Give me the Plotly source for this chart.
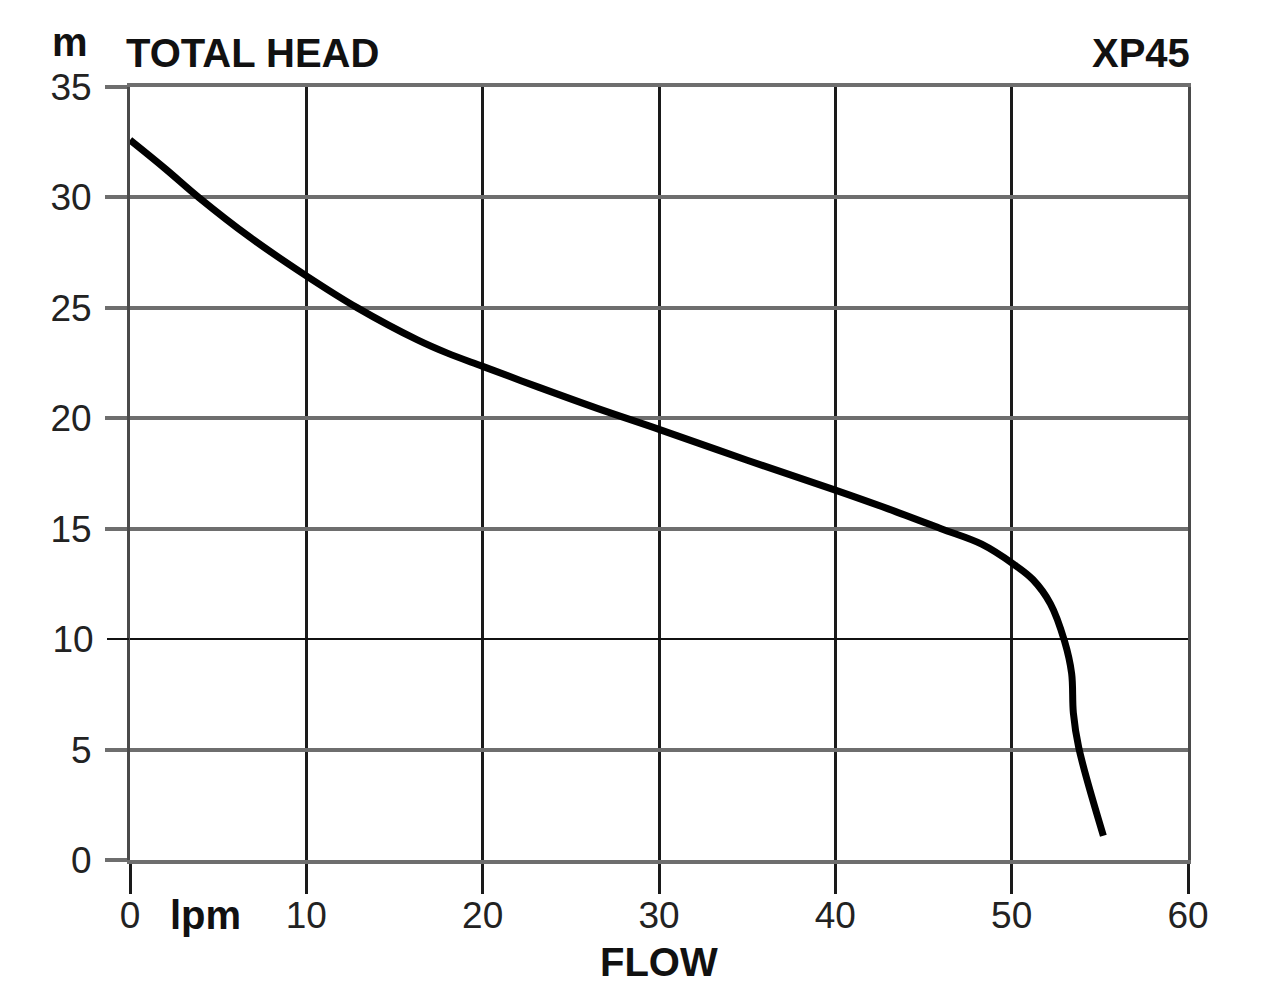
import plotly.graph_objects as go

# pump curve XP45
flow_lpm = [0, 2, 3.9, 6.8, 10, 12.9, 16.3, 18, 20, 23.2, 26.5, 30, 35, 40, 43, 46, 48.3,
            50.1, 51.2, 52.2, 53.0, 53.4, 53.5, 53.8, 55.2]
head_m = [32.6, 31.3, 30.0, 28.2, 26.45, 25.0, 23.55, 22.95, 22.35, 21.4, 20.45, 19.5, 18.1, 16.75, 15.9, 15.0, 14.3,
          13.4, 12.7, 11.6, 9.9, 8.45, 6.65, 5.1, 1.1]

x_ticks = [0, 10, 20, 30, 40, 50, 60]
y_ticks_grey = [0, 5, 15, 20, 25, 30, 35]
y_ticks_black = [10]

FONT = "Liberation Sans, Arial, sans-serif"
GREY = "#6e6e6e"
INK = "#111111"

fig = go.Figure()
fig.add_trace(
    go.Scatter(
        x=flow_lpm,
        y=head_m,
        mode="lines",
        line=dict(color="black", width=7, shape="spline", smoothing=1.0),
        showlegend=False,
        hoverinfo="skip",
    )
)
# empty trace so the second y axis (black 10 m line) gets drawn
fig.add_trace(go.Scatter(x=[None], y=[None], yaxis="y2", showlegend=False, hoverinfo="skip"))

tick_font = dict(size=37, color="#222")

fig.update_layout(
    width=1264,
    height=986,
    paper_bgcolor="white",
    plot_bgcolor="white",
    margin=dict(l=122, r=84, t=79, b=134),
    font=dict(family=FONT, color=INK),
    showlegend=False,
    xaxis=dict(
        range=[0, 60],
        tickvals=x_ticks,
        showgrid=True,
        gridcolor="#1a1a1a",
        gridwidth=2.5,
        zeroline=False,
        showline=True,
        linecolor=GREY,
        linewidth=4,
        mirror=True,
        ticks="outside",
        ticklen=30,
        tickwidth=2.5,
        tickcolor="#1a1a1a",
        tickfont=tick_font,
        ticklabelstandoff=-10,
    ),
    yaxis=dict(
        range=[0, 35],
        tickvals=y_ticks_grey,
        showgrid=True,
        gridcolor=GREY,
        gridwidth=4,
        zeroline=False,
        showline=True,
        linecolor="#4a4a4a",
        linewidth=3,
        mirror=True,
        ticks="outside",
        ticklen=22,
        tickwidth=4,
        tickcolor=GREY,
        tickfont=tick_font,
        ticklabelstandoff=6,
    ),
    yaxis2=dict(
        range=[0, 35],
        overlaying="y",
        side="left",
        tickvals=y_ticks_black,
        showgrid=True,
        gridcolor="#111111",
        gridwidth=2,
        zeroline=False,
        showline=False,
        ticks="outside",
        ticklen=22,
        tickwidth=2,
        tickcolor="#111111",
        tickfont=tick_font,
        ticklabelstandoff=6,
    ),
)

bold = dict(family=FONT, size=40, color=INK)
for text, x, y, xa in (
    ("<b>m</b>", -0.0567, 1.058, "center"),
    ("<b>TOTAL HEAD</b>", -0.006, 1.044, "left"),
    ("<b>XP45</b>", 1.004, 1.044, "right"),
    ("<b>lpm</b>", 0.036, -0.071, "left"),
    ("<b>FLOW</b>", 0.5, -0.132, "center"),
):
    fig.add_annotation(
        text=text, x=x, y=y, xref="paper", yref="paper",
        xanchor=xa, yanchor="middle", showarrow=False, font=bold,
    )

fig.write_html("out.html")
